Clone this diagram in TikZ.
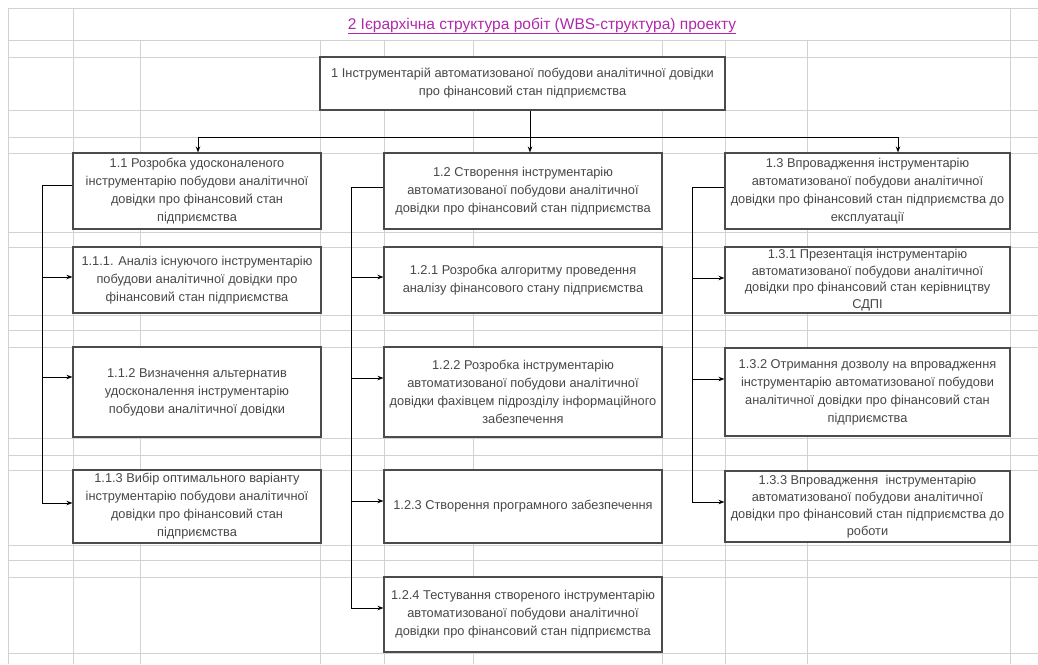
\documentclass[tikz,border=0pt]{standalone}
\usepackage{fontspec}
\setmainfont{Liberation Sans}
\usetikzlibrary{arrows.meta}

\definecolor{gridgray}{RGB}{210,210,210}
\definecolor{titlepink}{RGB}{175,40,170}
\definecolor{boxgray}{RGB}{75,75,75}

\begin{document}
\begin{tikzpicture}[x=1pt,y=-1pt]
  \useasboundingbox (0,0) rectangle (1038,664);

  % sheet grid
  \begin{scope}[draw=gridgray, line width=0.8pt]
    \foreach \gy in {8,40,57,110,137,153,232,247,315,330,347,438,455,470,545,560,577,653}
      \draw (8,\gy) -- (1038,\gy);
    \foreach \gx in {8,73,1010}
      \draw (\gx,8) -- (\gx,664);
    \foreach \gx in {140,320,384,473,662,725,807}
      \draw (\gx,40) -- (\gx,664);
  \end{scope}

  \node[text=titlepink, font=\fontsize{15.5}{18}\selectfont] (title) at (542,26)
    {\underline{2 Ієрархічна структура робіт (WBS-структура) проекту}};

  \begin{scope}[every node/.style={draw=boxgray, line width=1.1pt, fill=white,
      align=center, text=black!72, inner sep=2pt,
      font=\fontsize{12.8}{18}\selectfont}]
    \node[minimum width=405, minimum height=53] (top) at (522.5,83.5)
      {1 Інструментарій автоматизованої побудови аналітичної довідки\\про фінансовий стан підприємства};

    \node[minimum width=248, minimum height=76] (b11) at (197,191)
      {1.1 Розробка удосконаленого\\інструментарію побудови аналітичної\\довідки про фінансовий стан\\підприємства};
    \node[minimum width=248, minimum height=66] (b111) at (197,280)
      {1.1.1. Аналіз існуючого інструментарію\\побудови аналітичної довідки про\\фінансовий стан підприємства};
    \node[minimum width=248, minimum height=90] (b112) at (197,392)
      {1.1.2 Визначення альтернатив\\удосконалення інструментарію\\побудови аналітичної довідки};
    \node[minimum width=248, minimum height=73] (b113) at (197,506.5)
      {1.1.3 Вибір оптимального варіанту\\інструментарію побудови аналітичної\\довідки про фінансовий стан\\підприємства};

    \node[minimum width=278, minimum height=76] (b12) at (523,191)
      {1.2 Створення інструментарію\\автоматизованої побудови аналітичної\\довідки про фінансовий стан підприємства};
    \node[minimum width=278, minimum height=66] (b121) at (523,280)
      {1.2.1 Розробка алгоритму проведення\\аналізу фінансового стану підприємства};
    \node[minimum width=278, minimum height=90] (b122) at (523,392)
      {1.2.2 Розробка інструментарію\\автоматизованої побудови аналітичної\\довідки фахівцем підрозділу інформаційного\\забезпечення};
    \node[minimum width=278, minimum height=73] (b123) at (523,506.5)
      {1.2.3 Створення програмного забезпечення};
    \node[minimum width=278, minimum height=75] (b124) at (523,614.5)
      {1.2.4 Тестування створеного інструментарію\\автоматизованої побудови аналітичної\\довідки про фінансовий стан підприємства};

    \node[minimum width=285, minimum height=76] (b13) at (867.5,191)
      {1.3 Впровадження інструментарію\\автоматизованої побудови аналітичної\\довідки про фінансовий стан підприємства до\\експлуатації};
    \node[minimum width=285, minimum height=66, inner sep=0pt,
        font=\fontsize{12.8}{16.5}\selectfont] (b131) at (867.5,280)
      {1.3.1 Презентація інструментарію\\автоматизованої побудови аналітичної\\довідки про фінансовий стан керівництву\\СДПІ};
    \node[minimum width=285, minimum height=88] (b132) at (867.5,392)
      {1.3.2 Отримання дозволу на впровадження\\інструментарію автоматизованої побудови\\аналітичної довідки про фінансовий стан\\підприємства};
    \node[minimum width=285, minimum height=71, inner sep=1pt,
        font=\fontsize{12.8}{17}\selectfont] (b133) at (867.5,506.5)
      {1.3.3 Впровадження\ \ інструментарію\\автоматизованої побудови аналітичної\\довідки про фінансовий стан підприємства до\\роботи};
  \end{scope}

  \begin{scope}[>={Stealth[length=6pt,width=4.5pt]}, line width=0.9pt]
    % top level
    \coordinate (bus) at (530,137);
    \draw ([xshift=7.5]top.south) -- (bus);
    \draw[->] (bus) -| ([xshift=1]b11.north);
    \draw[->] (bus) -- (b12.north -| bus);
    \draw[->] (bus) -| ([xshift=30.5]b13.north);

    % column 1.1
    \draw ([yshift=6]b11.west) -- ++(-30,0) coordinate (rail1);
    \draw[->] (rail1) |- ([yshift=3]b111.west);
    \draw[->] (rail1) |- ([yshift=15]b112.west);
    \draw[->] (rail1) |- ([yshift=3.5]b113.west);

    % column 1.2
    \draw ([yshift=4]b12.west) -- ++(-32,0) coordinate (rail2);
    \draw[->] (rail2) |- ([yshift=3]b121.west);
    \draw[->] (rail2) |- ([yshift=14]b122.west);
    \draw[->] (rail2) |- ([yshift=5.5]b123.west);
    \draw[->] (rail2) |- ([yshift=6.5]b124.west);

    % column 1.3
    \draw ([yshift=4]b13.west) -- ++(-32,0) coordinate (rail3);
    \draw[->] (rail3) |- ([yshift=2]b131.west);
    \draw[->] (rail3) |- ([yshift=13]b132.west);
    \draw[->] (rail3) |- ([yshift=4.5]b133.west);
  \end{scope}
\end{tikzpicture}
\end{document}
